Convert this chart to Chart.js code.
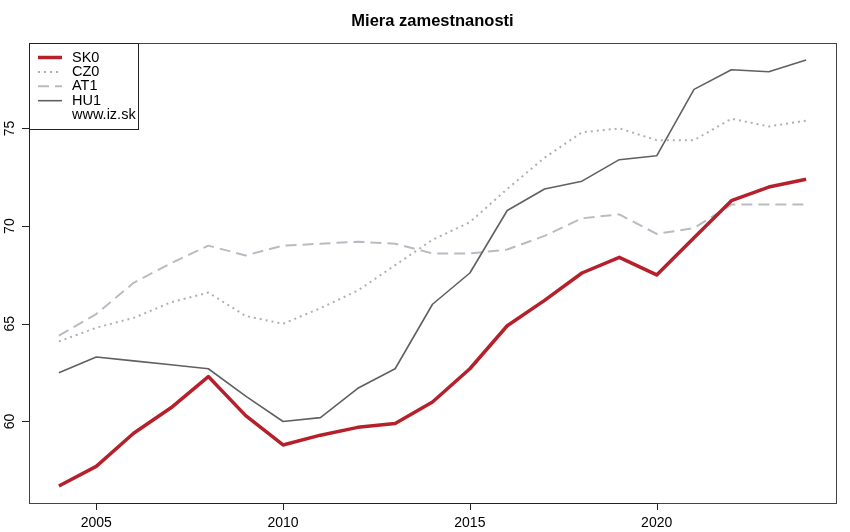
<!DOCTYPE html>
<html>
<head>
<meta charset="utf-8">
<script src="https://cdn.jsdelivr.net/npm/chart.js@4"></script>
<style>
  html,body{margin:0;padding:0;background:#fff;}
  #wrap{width:850px;height:532px;position:relative;}
</style>
</head>
<body>
<div id="wrap"><canvas id="c" width="850" height="532"></canvas></div>
<script>
// ---- data ----
const years=[2004,2005,2006,2007,2008,2009,2010,2011,2012,2013,2014,2015,2016,2017,2018,2019,2020,2021,2022,2023,2024];
const sk0=[56.7,57.7,59.4,60.7,62.3,60.3,58.8,59.3,59.7,59.9,61.0,62.7,64.9,66.2,67.6,68.4,67.5,69.4,71.3,72.0,72.4];
const cz0=[64.1,64.8,65.3,66.1,66.6,65.4,65.0,65.8,66.7,68.0,69.3,70.2,71.9,73.5,74.8,75.0,74.4,74.4,75.5,75.1,75.4];
const at1=[64.4,65.5,67.1,68.1,69.0,68.5,69.0,69.1,69.2,69.1,68.6,68.6,68.8,69.5,70.4,70.6,69.6,69.9,71.1,71.1,71.1];
const hu1=[62.5,63.3,63.1,62.9,62.7,61.3,60.0,60.2,61.7,62.7,66.0,67.6,70.8,71.9,72.3,73.4,73.6,77.0,78.0,77.9,78.5];
const xTicks=[2005,2010,2015,2020];
const yTicks=[60,65,70,75];
const title='Miera zamestnanosti';
const legendItems=['SK0','CZ0','AT1','HU1'];
const legendNote='www.iz.sk';

const FONT='"Liberation Sans", Arial, Helvetica, sans-serif';
const pts=arr=>arr.map((v,i)=>({x:years[i],y:v}));

// R style: 4% padding around data range
const pad=(lo,hi)=>[lo-(hi-lo)*0.04,hi+(hi-lo)*0.04];
const allY=[...sk0,...cz0,...at1,...hu1];
const [yMin,yMax]=pad(Math.min(...allY),Math.max(...allY));
const [xMin,xMax]=pad(years[0],years[years.length-1]);

const styles={
  SK0:{color:'#b5202a',width:3.5,dash:[]},
  CZ0:{color:'#b0b0b0',width:2,dash:[2,4]},
  AT1:{color:'#b8bcc2',width:2,dash:[11,6]},
  HU1:{color:'#606060',width:1.6,dash:[]}
};

// axes, box, title, legend drawn R-like
const rDecor={
  id:'rDecor',
  afterDraw(chart){
    const {ctx,chartArea:a,scales:{x,y}}=chart;
    ctx.save();
    // box
    ctx.strokeStyle='#444';ctx.lineWidth=1;
    ctx.strokeRect(a.left+0.5,a.top+0.5,a.right-a.left,a.bottom-a.top);
    // x axis
    ctx.strokeStyle='#222';
    ctx.beginPath();
    ctx.moveTo(x.getPixelForValue(xTicks[0]),a.bottom+0.5);
    ctx.lineTo(x.getPixelForValue(xTicks[xTicks.length-1]),a.bottom+0.5);
    xTicks.forEach(t=>{const px=Math.round(x.getPixelForValue(t))+0.5;ctx.moveTo(px,a.bottom);ctx.lineTo(px,a.bottom+7);});
    // y axis
    ctx.moveTo(a.left+0.5,y.getPixelForValue(yTicks[0]));
    ctx.lineTo(a.left+0.5,y.getPixelForValue(yTicks[yTicks.length-1]));
    yTicks.forEach(t=>{const py=Math.round(y.getPixelForValue(t))+0.5;ctx.moveTo(a.left,py);ctx.lineTo(a.left-7,py);});
    ctx.stroke();
    ctx.fillStyle='#000';ctx.font='14px '+FONT;
    ctx.textAlign='center';ctx.textBaseline='middle';
    xTicks.forEach(t=>ctx.fillText(String(t),x.getPixelForValue(t),523.5));
    yTicks.forEach(t=>{
      ctx.save();ctx.translate(10,y.getPixelForValue(t));ctx.rotate(-Math.PI/2);
      ctx.fillText(String(t),0,0);ctx.restore();
    });
    // title
    ctx.font='bold 16.5px '+FONT;
    ctx.fillText(title,(a.left+a.right)/2,21);
    // legend
    const lx=a.left,ly=a.top,lw=109,lh=86;
    ctx.fillStyle='#fff';ctx.fillRect(lx,ly,lw,lh);
    ctx.strokeStyle='#222';ctx.lineWidth=1;
    ctx.strokeRect(lx+0.5,ly+0.5,lw,lh);
    ctx.font='14.5px '+FONT;ctx.textAlign='left';ctx.fillStyle='#000';
    legendItems.forEach((name,i)=>{
      const s=styles[name];const yy=ly+14.5+i*14.4;
      ctx.strokeStyle=s.color;ctx.lineWidth=s.width;ctx.setLineDash(s.dash);
      ctx.beginPath();ctx.moveTo(lx+9,yy);ctx.lineTo(lx+33,yy);ctx.stroke();
      ctx.setLineDash([]);
      ctx.fillText(name,lx+43,yy);
    });
    ctx.fillText(legendNote,lx+43,ly+14.5+4*14.4);
    ctx.restore();
  }
};

const mk=(name,arr,order)=>({
  label:name,data:pts(arr),borderColor:styles[name].color,borderWidth:styles[name].width,
  borderDash:styles[name].dash,pointRadius:0,tension:0,fill:false,order,
  borderCapStyle:'butt',borderJoinStyle:'round'
});

new Chart(document.getElementById('c'),{
  type:'line',
  data:{datasets:[mk('SK0',sk0,0),mk('CZ0',cz0,3),mk('AT1',at1,2),mk('HU1',hu1,1)]},
  options:{
    responsive:false,animation:false,
    layout:{padding:{left:29,top:43,right:14,bottom:29}},
    plugins:{legend:{display:false},title:{display:false},tooltip:{enabled:false}},
    scales:{
      x:{type:'linear',min:xMin,max:xMax,display:false},
      y:{type:'linear',min:yMin,max:yMax,display:false}
    }
  },
  plugins:[rDecor]
});
</script>
</body>
</html>
